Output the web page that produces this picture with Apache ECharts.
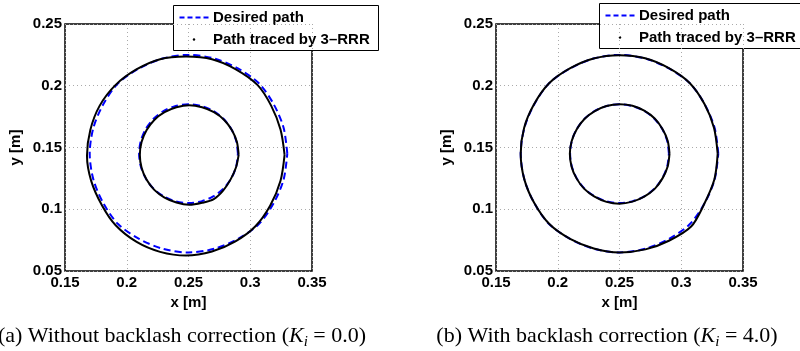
<!DOCTYPE html>
<html><head><meta charset="utf-8">
<script src="https://cdn.jsdelivr.net/npm/echarts@6/dist/echarts.min.js"></script>
<style>html,body{margin:0;padding:0;background:#fff}#c{width:800px;height:351px}</style>
</head><body><div id="c"></div>
<script>
// ---- data ----
const xTicks = [0.15, 0.2, 0.25, 0.3, 0.35];
const yTicks = [0.05, 0.1, 0.15, 0.2, 0.25];
const xName = 'x [m]';
const yName = 'y [m]';
const legendNames = ['Desired path', 'Path traced by 3–RRR'];
const captionA = ['(a) Without backlash correction (', 'K', 'i', ' = 0.0)'];
const captionB = ['(b) With backlash correction (', 'K', 'i', ' = 4.0)'];

const desiredOuter = [
  [0.330,0.145],[0.327,0.166],[0.319,0.185],[0.307,0.202],[0.290,0.214],[0.271,0.222],
  [0.250,0.225],[0.229,0.222],[0.210,0.214],[0.193,0.202],[0.181,0.185],[0.173,0.166],
  [0.170,0.145],[0.173,0.124],[0.181,0.105],[0.193,0.088],[0.210,0.076],[0.229,0.068],
  [0.250,0.065],[0.271,0.068],[0.290,0.076],[0.307,0.088],[0.319,0.105],[0.327,0.124]
];
const desiredInner = [
  [0.2900,0.1450],[0.2886,0.1554],[0.2846,0.1650],[0.2783,0.1733],[0.2700,0.1796],[0.2604,0.1836],
  [0.2500,0.1850],[0.2396,0.1836],[0.2300,0.1796],[0.2217,0.1733],[0.2154,0.1650],[0.2114,0.1554],
  [0.2100,0.1450],[0.2114,0.1346],[0.2154,0.1250],[0.2217,0.1167],[0.2300,0.1104],[0.2396,0.1064],
  [0.2500,0.1050],[0.2604,0.1064],[0.2700,0.1104],[0.2783,0.1167],[0.2846,0.1250],[0.2886,0.1346]
];
const tracedOuterA = [
  [0.3278,0.1440],[0.3245,0.1645],[0.3170,0.1837],[0.3060,0.2005],[0.2880,0.2135],[0.2690,0.2215],
  [0.2480,0.2236],[0.2270,0.2215],[0.2078,0.2132],[0.1908,0.2005],[0.1780,0.1837],[0.1705,0.1642],
  [0.1678,0.1433],[0.1712,0.1230],[0.1800,0.1030],[0.1910,0.0870],[0.2080,0.0735],[0.2270,0.0655],
  [0.2480,0.0625],[0.2690,0.0658],[0.2880,0.0740],[0.3040,0.0860],[0.3162,0.1030],[0.3245,0.1230]
];
const tracedInnerA = [
  [0.2906,0.1440],[0.2892,0.1544],[0.2852,0.1640],[0.2789,0.1723],[0.2706,0.1786],[0.2610,0.1826],
  [0.2506,0.1843],[0.2402,0.1826],[0.2306,0.1786],[0.2223,0.1723],[0.2160,0.1640],[0.2120,0.1544],
  [0.2106,0.1440],[0.2120,0.1336],[0.2160,0.1240],[0.2223,0.1157],[0.2306,0.1094],[0.2402,0.1054],
  [0.2506,0.1036],[0.2610,0.1052],[0.2705,0.1082],[0.2780,0.1150],[0.2840,0.1240],[0.2885,0.1340]
];
const tracedOuterB = [
  [0.3295,0.1450],[0.3265,0.1660],[0.3188,0.1852],[0.3068,0.2022],[0.2900,0.2142],[0.2708,0.2222],
  [0.2500,0.2247],[0.2290,0.2220],[0.2098,0.2140],[0.1930,0.2020],[0.1808,0.1850],[0.1728,0.1660],
  [0.1700,0.1450],[0.1730,0.1240],[0.1810,0.1050],[0.1932,0.0880],[0.2100,0.0760],[0.2292,0.0682],
  [0.2500,0.0650],[0.2710,0.0675],[0.2900,0.0745],[0.3080,0.0860],[0.3180,0.1030],[0.3268,0.1240]
];
const tracedInnerB = [
  [0.2905,0.1450],[0.2890,0.1555],[0.2848,0.1650],[0.2785,0.1735],[0.2700,0.1798],[0.2605,0.1838],
  [0.2500,0.1850],[0.2395,0.1836],[0.2300,0.1795],[0.2218,0.1733],[0.2155,0.1650],[0.2113,0.1553],
  [0.2098,0.1450],[0.2112,0.1345],[0.2152,0.1250],[0.2215,0.1165],[0.2298,0.1102],[0.2395,0.1060],
  [0.2500,0.1045],[0.2605,0.1062],[0.2700,0.1102],[0.2785,0.1165],[0.2848,0.1250],[0.2890,0.1346]
];

// ---- build ----
const closeLoop = a => a.concat([a[0]]);
const SANS = '"Liberation Sans", Arial, Helvetica, sans-serif';
const SERIF = '"Liberation Serif", "Times New Roman", serif';
const fmt = v => String(Math.round(v * 100) / 100);

function makeX(i) {
  return {
    type: 'value', gridIndex: i, min: xTicks[0], max: xTicks[xTicks.length - 1],
    interval: xTicks[1] - xTicks[0],
    name: xName, nameLocation: 'middle', nameGap: 24,
    nameTextStyle: { fontFamily: SANS, fontWeight: 'bold', fontSize: 15, color: '#000' },
    axisLine: { show: false }, axisTick: { show: false },
    axisLabel: { fontFamily: SANS, fontWeight: 'bold', fontSize: 15, color: '#000', margin: 4, formatter: fmt },
    splitLine: { show: true, lineStyle: { color: '#aaa', type: [1, 3], width: 1 } }
  };
}
function makeY(i) {
  return {
    type: 'value', gridIndex: i, min: yTicks[0], max: yTicks[yTicks.length - 1],
    interval: yTicks[1] - yTicks[0],
    name: yName, nameLocation: 'middle', nameGap: 42,
    nameTextStyle: { fontFamily: SANS, fontWeight: 'bold', fontSize: 15, color: '#000' },
    axisLine: { show: false }, axisTick: { show: false },
    axisLabel: { fontFamily: SANS, fontWeight: 'bold', fontSize: 15, color: '#000', margin: 3, formatter: fmt },
    splitLine: { show: true, lineStyle: { color: '#aaa', type: [1, 3], width: 1 } }
  };
}
function desiredSeries(data, i) {
  return { type: 'line', xAxisIndex: i, yAxisIndex: i, data: closeLoop(data), smooth: 0.3,
    showSymbol: false, symbol: 'none', z: 2,
    lineStyle: { color: '#0000ff', width: 2, type: [7, 4] } };
}
function tracedSeries(data, i) {
  return { type: 'line', xAxisIndex: i, yAxisIndex: i, data: closeLoop(data), smooth: 0.3,
    showSymbol: false, symbol: 'none', z: 3,
    lineStyle: { color: '#000', width: 2 } };
}
function legendGroup(x, y, w) {
  return {
    type: 'group', left: x, top: y, z: 100, children: [
      { type: 'rect', shape: { x: 0, y: 0, width: w, height: 45 },
        style: { fill: '#fff', stroke: '#000', lineWidth: 1 } },
      { type: 'line', shape: { x1: 6, y1: 12, x2: 37, y2: 12 },
        style: { stroke: '#0000ff', lineWidth: 2, lineDash: [5, 3] } },
      { type: 'circle', shape: { cx: 20.5, cy: 34, r: 1.2 }, style: { fill: '#000' } },
      { type: 'text', x: 39.5, y: 12, style: { text: legendNames[0], fontFamily: SANS,
        fontWeight: 'bold', fontSize: 15, fill: '#000', verticalAlign: 'middle', align: 'left' } },
      { type: 'text', x: 39.5, y: 34, style: { text: legendNames[1], fontFamily: SANS,
        fontWeight: 'bold', fontSize: 15, fill: '#000', verticalAlign: 'middle', align: 'left' } }
    ]
  };
}
function caption(parts, cx) {
  return {
    type: 'text', x: cx, y: 336, z: 100,
    style: {
      text: parts[0] + '{k|' + parts[1] + '}{s|' + parts[2] + '}' + parts[3],
      fontFamily: SERIF, fontSize: 22, fill: '#000', align: 'center', verticalAlign: 'middle',
      rich: {
        k: { fontFamily: SERIF, fontSize: 22, fontStyle: 'italic', fill: '#000' },
        s: { fontFamily: SERIF, fontSize: 15, fontStyle: 'italic', fill: '#000', padding: [12, 0, 0, 0] }
      }
    }
  };
}

const chart = echarts.init(document.getElementById('c'), null, { renderer: 'canvas' });
chart.setOption({
  animation: false,
  backgroundColor: '#fff',
  grid: [
    { left: 65, top: 24, width: 247, height: 247, show: true, borderColor: '#000', borderWidth: 1.5, backgroundColor: 'transparent' },
    { left: 496, top: 24, width: 247, height: 247, show: true, borderColor: '#000', borderWidth: 1.5, backgroundColor: 'transparent' }
  ],
  xAxis: [makeX(0), makeX(1)],
  yAxis: [makeY(0), makeY(1)],
  series: [
    desiredSeries(desiredOuter, 0), desiredSeries(desiredInner, 0),
    tracedSeries(tracedOuterA, 0), tracedSeries(tracedInnerA, 0),
    desiredSeries(desiredOuter, 1), desiredSeries(desiredInner, 1),
    tracedSeries(tracedOuterB, 1), tracedSeries(tracedInnerB, 1)
  ],
  graphic: [
    legendGroup(173, 5, 205), legendGroup(599, 3, 210),
    caption(captionA, 182), caption(captionB, 607)
  ]
});
</script></body></html>
